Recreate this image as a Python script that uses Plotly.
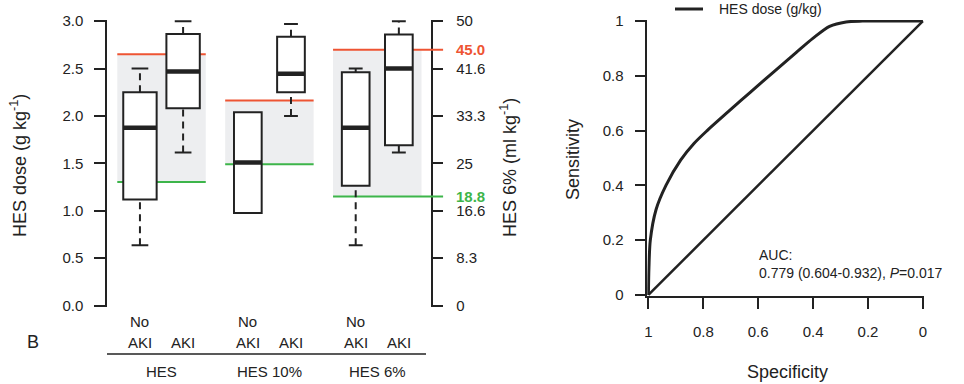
import plotly.graph_objects as go

W, H = 964, 384
FONT = "Liberation Sans, Arial, Helvetica, sans-serif"
TXT = "#222222"
RED = "#EE5433"
GREEN = "#3DB54A"
BAND = "#EDEEF0"

# ---------------- data: left panel (HES dose, g/kg) ----------------
groups = ["HES", "HES 10%", "HES 6%"]
categories = ["No AKI", "AKI", "No AKI", "AKI", "No AKI", "AKI"]
group_of = [0, 0, 1, 1, 2, 2]
q1 = [1.12, 2.08, 0.975, 2.25, 1.265, 1.69]
median = [1.875, 2.47, 1.51, 2.445, 1.875, 2.50]
q3 = [2.25, 2.865, 2.04, 2.835, 2.46, 2.86]
whisker_low = [0.635, 1.615, 0.975, 2.00, 0.635, 1.615]
whisker_high = [2.50, 3.00, 2.04, 2.97, 2.50, 3.00]
upper_cut = [2.651, 2.163, 2.697]
lower_cut = [1.302, 1.490, 1.151]
ml_tick_g = [0, 0.5, 1.0, 1.5, 2.0, 2.5, 3.0]
ml_tick_text = ["0", "8.3", "16.6", "25", "33.3", "41.6", "50"]
left_tick_text = ["0.0", "0.5", "1.0", "1.5", "2.0", "2.5", "3.0"]
cut_labels_6 = ["45.0", "18.8"]

# ---------------- data: right panel (ROC) ----------------
specificity = [1.0, 0.998, 0.993, 0.972, 0.936, 0.882, 0.834, 0.786, 0.708,
               0.629, 0.461, 0.401, 0.340, 0.280, 0.22, 0.0]
sensitivity = [0.0, 0.10, 0.20, 0.312, 0.40, 0.493, 0.553, 0.60, 0.670,
               0.740, 0.886, 0.937, 0.981, 0.997, 1.0, 1.0]
roc_name = "HES dose (g/kg)"
auc_text = "AUC:<br>0.779 (0.604-0.932), <i>P</i>=0.017"
roc_ticks = [0, 0.2, 0.4, 0.6, 0.8, 1.0]
roc_tick_text = ["0", "0.2", "0.4", "0.6", "0.8", "1"]

# ---------------- layout geometry ----------------
positions = [1, 2, 3.5, 4.5, 6, 7]
box_w = [0.774, 0.774, 0.642, 0.642, 0.642, 0.642]
band_pad = 0.525
px_a, px_b = 96.8, 43.15           # pixel = a + b*x for left panel
L_left_px, L_axis_px, L_right_px = 107, 431.5, 443.3
xr = [(L_left_px - px_a) / px_b, (L_right_px - px_a) / px_b]
ytop_px, ybot_px = 20, 306.7

fig = go.Figure()

shapes = []
for g in range(3):
    idx = [i for i in range(6) if group_of[i] == g]
    x0 = positions[idx[0]] - band_pad
    x1 = positions[idx[-1]] + band_pad
    shapes.append(dict(type="rect", xref="x", yref="y", x0=x0, x1=x1,
                       y0=lower_cut[g], y1=upper_cut[g], fillcolor=BAND,
                       line=dict(width=0), layer="below"))
    xe = xr[1] if g == 2 else x1
    shapes.append(dict(type="line", xref="x", yref="y", x0=x0, x1=xe,
                       y0=upper_cut[g], y1=upper_cut[g], line=dict(color=RED, width=2)))
    shapes.append(dict(type="line", xref="x", yref="y", x0=x0, x1=xe,
                       y0=lower_cut[g], y1=lower_cut[g], line=dict(color=GREEN, width=2)))

for i, x in enumerate(positions):
    hw = box_w[i] / 2
    cap = hw * 0.5
    if whisker_high[i] > q3[i] + 1e-9:
        shapes.append(dict(type="line", xref="x", yref="y", x0=x, x1=x, y0=q3[i], y1=whisker_high[i],
                           line=dict(color=TXT, width=2, dash="7px,5px")))
        shapes.append(dict(type="line", xref="x", yref="y", x0=x - cap, x1=x + cap,
                           y0=whisker_high[i], y1=whisker_high[i], line=dict(color=TXT, width=2)))
    if whisker_low[i] < q1[i] - 1e-9:
        shapes.append(dict(type="line", xref="x", yref="y", x0=x, x1=x, y0=whisker_low[i], y1=q1[i],
                           line=dict(color=TXT, width=2, dash="7px,5px")))
        shapes.append(dict(type="line", xref="x", yref="y", x0=x - cap, x1=x + cap,
                           y0=whisker_low[i], y1=whisker_low[i], line=dict(color=TXT, width=2)))
    shapes.append(dict(type="rect", xref="x", yref="y", x0=x - hw, x1=x + hw, y0=q1[i], y1=q3[i],
                       fillcolor="white", line=dict(color=TXT, width=2)))
    shapes.append(dict(type="line", xref="x", yref="y", x0=x - hw, x1=x + hw, y0=median[i], y1=median[i],
                       line=dict(color=TXT, width=4.5)))

# line under category labels
shapes.append(dict(type="line", xref="paper", yref="paper", x0=107 / W, x1=426 / W,
                   y0=1 - 354 / H, y1=1 - 354 / H, line=dict(color=TXT, width=1.5)))
# legend sample line
shapes.append(dict(type="line", xref="paper", yref="paper", x0=675 / W, x1=703 / W,
                   y0=1 - 9 / H, y1=1 - 9 / H, line=dict(color=TXT, width=3)))

fig.add_trace(go.Scatter(x=positions, y=median, mode="markers", marker=dict(opacity=0),
                         showlegend=False, hoverinfo="skip", xaxis="x", yaxis="y"))
fig.add_trace(go.Scatter(x=positions, y=median, mode="markers", marker=dict(opacity=0),
                         showlegend=False, hoverinfo="skip", xaxis="x", yaxis="y2"))

fig.add_trace(go.Scatter(x=[1, 0], y=[0, 1], mode="lines", line=dict(color=TXT, width=2.5),
                         showlegend=False, xaxis="x2", yaxis="y3"))
fig.add_trace(go.Scatter(x=specificity, y=sensitivity, mode="lines", name=roc_name,
                         line=dict(color=TXT, width=3, shape="spline", smoothing=0.8),
                         showlegend=False, xaxis="x2", yaxis="y3"))

ann = []
tf = dict(family=FONT, size=15, color=TXT)
for i, lab in enumerate(categories):
    lines = lab.split(" ")
    for k, ln in enumerate(reversed(lines)):
        ann.append(dict(text=ln, x=positions[i], xref="x", y=1 - (342 - 21 * k) / H, yref="paper",
                        showarrow=False, xanchor="center", yanchor="middle", font=tf))
for g, name in enumerate(groups):
    idx = [i for i in range(6) if group_of[i] == g]
    xm = (positions[idx[0]] + positions[idx[-1]]) / 2
    ann.append(dict(text=name, x=xm, xref="x", y=1 - 371 / H, yref="paper", showarrow=False,
                    xanchor="center", yanchor="middle", font=tf))
ann.append(dict(text="<b>%s</b>" % cut_labels_6[0], x=454 / W, xref="paper", y=upper_cut[2], yref="y",
                showarrow=False, xanchor="left", yanchor="middle", font=dict(family=FONT, size=15, color=RED)))
ann.append(dict(text="<b>%s</b>" % cut_labels_6[1], x=454 / W, xref="paper", y=lower_cut[2], yref="y",
                showarrow=False, xanchor="left", yanchor="middle", font=dict(family=FONT, size=15, color=GREEN)))
ann.append(dict(text="HES dose (g kg<sup>-1</sup>)", x=18 / W, y=1 - 166 / H, xref="paper", yref="paper",
                textangle=-90, showarrow=False, xanchor="center", yanchor="middle",
                font=dict(family=FONT, size=18, color=TXT)))
ann.append(dict(text="HES 6% (ml kg<sup>-1</sup>)", x=508 / W, y=1 - 168 / H, xref="paper", yref="paper",
                textangle=-90, showarrow=False, xanchor="center", yanchor="middle",
                font=dict(family=FONT, size=18, color=TXT)))
ann.append(dict(text="B", x=33 / W, y=1 - 342 / H, xref="paper", yref="paper", showarrow=False,
                xanchor="center", yanchor="middle", font=dict(family=FONT, size=18, color=TXT)))
ann.append(dict(text="Sensitivity", x=573 / W, y=1 - 160 / H, xref="paper", yref="paper",
                textangle=-90, showarrow=False, xanchor="center", yanchor="middle",
                font=dict(family=FONT, size=18, color=TXT)))
ann.append(dict(text="Specificity", x=787 / W, y=1 - 372 / H, xref="paper", yref="paper",
                showarrow=False, xanchor="center", yanchor="middle",
                font=dict(family=FONT, size=18, color=TXT)))
ann.append(dict(text=auc_text, x=757 / W, y=1 - 245 / H, xref="paper", yref="paper", showarrow=False,
                xanchor="left", yanchor="top", align="left", font=dict(family=FONT, size=14, color=TXT)))
ann.append(dict(text=roc_name, x=717 / W, y=1 - 9 / H, xref="paper", yref="paper", showarrow=False,
                xanchor="left", yanchor="middle", font=dict(family=FONT, size=14, color=TXT)))

ax_common = dict(showgrid=False, zeroline=False, showline=True, linecolor=TXT, linewidth=1.5,
                 ticks="outside", ticklen=11, tickwidth=1.5, tickcolor=TXT, automargin=False,
                 tickfont=dict(family=FONT, size=15, color=TXT))

eps = 0.012
fig.update_layout(
    width=W, height=H, autosize=False, margin=dict(l=0, r=0, t=0, b=0, pad=0),
    paper_bgcolor="white", plot_bgcolor="white",
    shapes=shapes, annotations=ann, showlegend=False,
    xaxis=dict(domain=[L_left_px / W, L_right_px / W], range=xr, visible=False, anchor="y",
               automargin=False),
    yaxis=dict(domain=[1 - ybot_px / H, 1 - ytop_px / H], range=[-eps, 3 + eps], anchor="x",
               tickvals=ml_tick_g, ticktext=left_tick_text, ticklabelstandoff=8, **ax_common),
    yaxis2=dict(overlaying="y", side="right", anchor="free", position=L_axis_px / W,
                range=[-eps, 3 + eps], tickvals=ml_tick_g, ticktext=ml_tick_text,
                ticklabelstandoff=10, **ax_common),
    xaxis2=dict(domain=[647.3 / W, 924 / W], range=[1.004, -0.004], anchor="y3",
                tickvals=roc_ticks, ticktext=roc_tick_text, ticklabelstandoff=10, **ax_common),
    yaxis3=dict(domain=[1 - 296 / H, 1 - 20 / H], range=[-0.004, 1.004], anchor="x2",
                tickvals=roc_ticks, ticktext=roc_tick_text, ticklabelstandoff=8, **ax_common),
)

fig.write_html("out.html")
